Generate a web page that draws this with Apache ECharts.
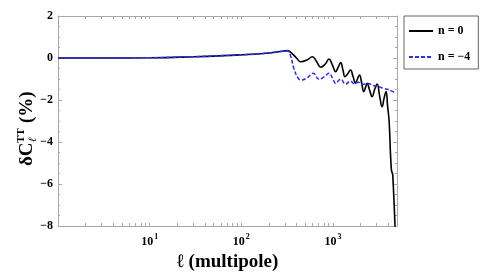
<!DOCTYPE html>
<html><head><meta charset="utf-8">
<script src="https://cdn.jsdelivr.net/npm/echarts@6/dist/echarts.min.js"></script>
<style>html,body{margin:0;padding:0;background:#fff}#c{width:491px;height:278px}</style>
</head><body><div id="c"></div>
<script>
// multipole values and delta C_l^TT (%) for n = 0
const ellN0 = [1, 3, 10, 30, 70, 150, 220, 280, 318, 360, 400, 446, 520, 596, 660, 735, 820, 905, 990, 1070, 1140, 1213, 1290, 1350, 1450, 1556, 1650, 1763, 1850, 1950, 2060, 2173, 2270, 2360, 2500, 2675, 2850, 3034, 3230, 3437, 3620, 3800, 3950, 4100, 4250, 4350, 4420, 4500, 4800];
const deltaN0 = [0, 0, 0.01, 0.06, 0.12, 0.19, 0.26, 0.32, 0.35, 0.2, 0.0, -0.18, -0.1, 0.06, -0.15, -0.44, -0.3, -0.05, -0.35, -0.65, -0.45, -0.22, -0.6, -0.89, -0.75, -0.57, -0.85, -1.2, -1.0, -0.81, -1.2, -1.6, -1.4, -1.2, -1.5, -1.84, -1.5, -1.24, -1.8, -2.32, -1.9, -1.6, -2.3, -3.0, -4.6, -5.35, -5.45, -5.6, -8.5];
// multipole values and delta C_l^TT (%) for n = -4
const ellN4 = [1, 3, 10, 30, 70, 150, 220, 280, 318, 345, 375, 410, 446, 520, 610, 705, 800, 905, 1000, 1070, 1213, 1375, 1556, 1700, 1900, 2100, 2400, 2800, 3200, 3600, 4000, 4400, 4900];
const deltaN4 = [0, 0, 0.01, 0.06, 0.12, 0.19, 0.26, 0.32, 0.34, 0.1, -0.5, -0.9, -1.05, -0.95, -0.73, -1.01, -0.9, -0.73, -1.0, -1.2, -1.01, -1.24, -1.1, -1.22, -1.15, -1.25, -1.22, -1.32, -1.38, -1.45, -1.5, -1.58, -1.68];
// axis ticks
const xLabelExps = [1, 2, 3];
const xMinorMultipliers = [2, 3, 4, 5, 6, 7, 8, 9];
const xMax = 5000;
const yTicks = [2, 0, -2, -4, -6, -8];
const seriesNames = ['n = 0', 'n = \u22124'];

const xMaxLog = Math.log10(xMax);
const tickVals = [];
for (let e = 0; e <= 3; e++) {
  if (e > 0) tickVals.push(e);
  xMinorMultipliers.forEach(m => { const v = Math.log10(m * Math.pow(10, e)); if (v <= xMaxLog) tickVals.push(v); });
}
const toPts = (xs, ys) => xs.map((l, i) => [Math.log10(l), ys[i]]);
const serif = '"Liberation Serif", "DejaVu Serif", serif';
const frame = '#a8a8a8';

const chart = echarts.init(document.getElementById('c'));
chart.setOption({
  animation: false,
  grid: { left: 58, right: 94, top: 16, bottom: 52 },
  xAxis: [{
    type: 'value', min: 0, max: xMaxLog, position: 'bottom',
    axisLine: { show: true, onZero: false, lineStyle: { color: frame, width: 1 } },
    axisTick: { show: true, inside: true, length: 3, customValues: tickVals, lineStyle: { color: frame } },
    splitLine: { show: false },
    axisLabel: {
      customValues: xLabelExps, margin: 7,
      formatter: v => '{b|10}{s|' + v + '}',
      rich: {
        b: { fontFamily: serif, fontWeight: 'bold', fontSize: 12, color: '#000' },
        s: { fontFamily: serif, fontWeight: 'bold', fontSize: 8, color: '#000', padding: [0, 0, 9, 1] }
      }
    },
    name: '\u2113 (multipole)', nameLocation: 'middle', nameGap: 27,
    nameTextStyle: { fontFamily: serif, fontWeight: 'bold', fontSize: 19, color: '#000' }
  }, {
    type: 'value', min: 0, max: xMaxLog, position: 'top',
    axisLine: { show: true, onZero: false, lineStyle: { color: frame, width: 1 } },
    axisTick: { show: true, inside: true, length: 3, customValues: tickVals, lineStyle: { color: frame } },
    splitLine: { show: false }, axisLabel: { show: false }
  }],
  yAxis: [{
    type: 'value', min: -8, max: 2, interval: 2, position: 'left',
    axisLine: { show: true, onZero: false, lineStyle: { color: frame, width: 1 } },
    axisTick: { show: true, inside: true, length: 4, lineStyle: { color: frame } },
    minorTick: { show: true, splitNumber: 4, length: 2, lineStyle: { color: frame } },
    splitLine: { show: false },
    axisLabel: { margin: 5, fontFamily: serif, fontWeight: 'bold', fontSize: 12, color: '#000',
      formatter: v => String(v).replace('-', '\u2212') }
  }, {
    type: 'value', min: -8, max: 2, interval: 2, position: 'right',
    axisLine: { show: true, onZero: false, lineStyle: { color: frame, width: 1 } },
    axisTick: { show: true, inside: true, length: 4, lineStyle: { color: frame } },
    minorTick: { show: true, splitNumber: 4, length: 2, lineStyle: { color: frame } },
    splitLine: { show: false }, axisLabel: { show: false }
  }],
  legend: {
    left: 404, top: 16, orient: 'vertical',
    padding: [9, 8, 6, 4], itemGap: 14, itemWidth: 24, itemHeight: 14,
    borderColor: '#666', borderWidth: 1,
    itemStyle: { opacity: 0 },
    textStyle: { fontFamily: serif, fontWeight: 'bold', fontSize: 12, color: '#000' },
    data: seriesNames
  },
  series: [{
    name: seriesNames[0], type: 'line', symbol: 'none', smooth: 0.45,
    lineStyle: { color: '#000', width: 1.6 }, itemStyle: { color: '#000' },
    data: toPts(ellN0, deltaN0)
  }, {
    name: seriesNames[1], type: 'line', symbol: 'none', smooth: 0.45,
    lineStyle: { color: '#2b2bff', width: 1.5, type: [4, 2] }, itemStyle: { color: '#2b2bff' },
    data: toPts(ellN4, deltaN4)
  }],
  graphic: [{
    type: 'group', x: 27, y: 126, rotation: Math.PI / 2,
    children: [
      { type: 'text', x: -40, y: 0, style: { text: '\u03b4C', font: 'bold 19px ' + serif, fill: '#000', verticalAlign: 'middle', align: 'left' } },
      { type: 'text', x: -17, y: -6, style: { text: 'TT', font: 'bold 11px ' + serif, fill: '#000', verticalAlign: 'middle', align: 'left' } },
      { type: 'text', x: -16, y: 6, style: { text: '\u2113', font: 'italic bold 11px ' + serif, fill: '#000', verticalAlign: 'middle', align: 'left' } },
      { type: 'text', x: 3, y: 0, style: { text: '(%)', font: 'bold 19px ' + serif, fill: '#000', verticalAlign: 'middle', align: 'left' } }
    ]
  }]
});
</script>
</body></html>
